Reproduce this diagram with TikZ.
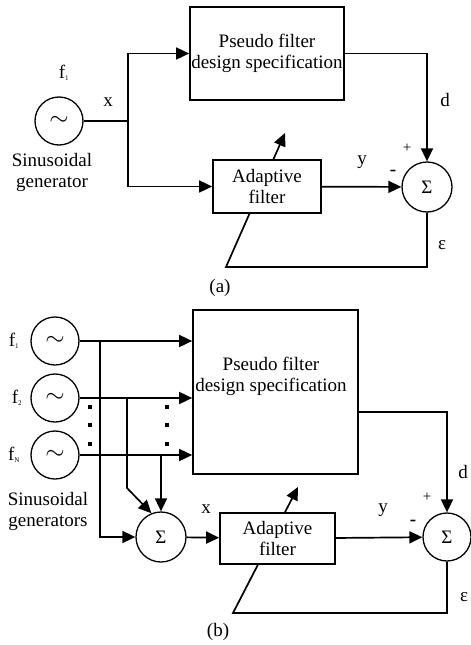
\documentclass[tikz,border=0pt]{standalone}
\usepackage{fontspec}
\setmainfont{Liberation Serif}
\usetikzlibrary{arrows.meta}
\newcommand{\fsub}[1]{f\textsubscript{\fontsize{7}{7}\selectfont #1}}
\begin{document}
\begin{tikzpicture}[x=1pt, y=-1pt, font=\fontsize{19}{21}\selectfont,
    line width=1.7pt, >={Triangle[length=13pt,width=12pt]},
    block/.style = {draw, fill=white, align=center, inner sep=0pt},
    sum/.style = {draw, circle, fill=white, minimum size=50pt, inner sep=0pt, line width=1.3pt},
    gen/.style = {draw, circle, minimum size=48pt, inner sep=0pt, line width=1.3pt,
                  font=\fontsize{28}{28}\selectfont}]
    \useasboundingbox (0,0) rectangle (471,645);
    % (a) one generator
    \node[gen] (gen) at (59,121) {$\sim$};
    \node[block, minimum width=154pt, minimum height=93pt] (spec) at (267,53.5) {Pseudo filter\\design specification};
    \node[sum] (sum) at (427,187) {Σ};
    \coordinate (x) at (128,121);
    \coordinate (eps) at (226,267);
    \coordinate (tip) at (285,133);
    % feedback first, the filter box covers it
    \draw[->] (sum) |- (eps) -- (tip);
    \node[block, minimum width=108pt, minimum height=53pt] (filt) at (267,186.5) {Adaptive\\filter};
    \draw (gen) -- (x);
    \draw[->] (x) |- (spec);
    \draw[->] (x) |- (filt);
    \draw[->] (filt) -- (sum);
    \draw[->] (spec) -| (sum);
    \node at (64,73) {\fsub{1}};
    \node[align=center] at (52,172) {Sinusoidal\\generator};
    \node at (108,102) {x};
    \node at (362,162) {y};
    \node at (393,173) {\textbf{-}};
    \node[font=\fontsize{15}{15}\selectfont] at (407,148) {+};
    \node at (445,100) {d};
    \node at (442,245) {ε};
    \node at (220,288) {(a)};
    % (b) N generators
    \node[gen] (g1) at (55,341) {$\sim$};
    \node[gen] (g2) at (55,398) {$\sim$};
    \node[gen] (gN) at (55,455) {$\sim$};
    \node[block, minimum width=165pt, minimum height=164pt] (spec2) at (275.5,392) {};
    \node[align=center] at (271,376) {Pseudo filter\\design specification};
    \node[sum] (s1) at (161,537) {Σ};
    \node[sum, minimum size=48pt] (s2) at (447,537) {Σ};
    \coordinate (b1) at (100,341);
    \coordinate (b2) at (127,398);
    \coordinate (k2) at (127,488);
    \coordinate (bN) at (161,455);
    \coordinate (eps2) at (233,613);
    \coordinate (tip2) at (298,487);
    \draw[->] (s2) |- (eps2) -- (tip2);
    \node[block, minimum width=115pt, minimum height=51pt] (filt2) at (277.5,538.5) {Adaptive\\filter};
    \draw[->] (g1) -- (g1 -| spec2.west);
    \draw[->] (g2) -- (g2 -| spec2.west);
    \draw[->] (gN) -- (gN -| spec2.west);
    \draw[->] (b1) |- (s1);
    \draw[->] (b2) -- (k2) -- (s1.112);
    \draw[->] (bN) -- (s1);
    \draw[->] (s1) -- (filt2);
    \draw[->] (filt2) -- (s2);
    \draw[->] ([yshift=-20pt]spec2.east) -| (s2);
    \foreach \y in {407,425,444} {
        \fill (90,\y) +(-2,-2) rectangle +(2,2);
        \fill (167,\y) +(-2,-2) rectangle +(2,2);
    }
    \node at (14,341) {\fsub{1}};
    \node at (17,398) {\fsub{2}};
    \node at (14,455) {\fsub{N}};
    \node[align=center] at (48,511) {Sinusoidal\\generators};
    \node at (206,509) {x};
    \node at (383,510) {y};
    \node at (413,523) {\textbf{-}};
    \node[font=\fontsize{15}{15}\selectfont] at (427,497) {+};
    \node at (463,472) {d};
    \node at (464,597) {ε};
    \node at (218,632) {(b)};
\end{tikzpicture}
\end{document}
